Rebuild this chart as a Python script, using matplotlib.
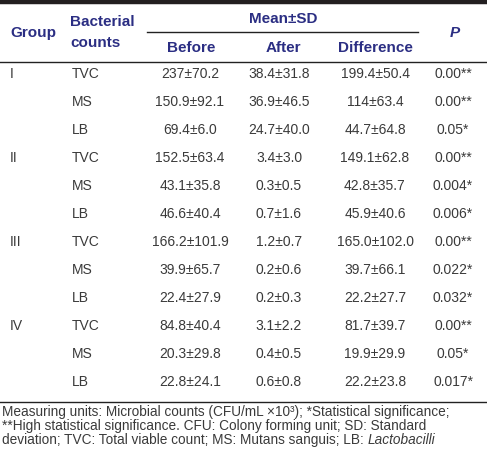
import matplotlib
matplotlib.use("Agg")
import matplotlib.pyplot as plt

plt.rcParams['font.family'] = ['Liberation Sans', 'DejaVu Sans']

groups = ["I", "II", "III", "IV"]
counts = ["TVC", "MS", "LB"]
before = ["237±70.2", "150.9±92.1", "69.4±6.0",
          "152.5±63.4", "43.1±35.8", "46.6±40.4",
          "166.2±101.9", "39.9±65.7", "22.4±27.9",
          "84.8±40.4", "20.3±29.8", "22.8±24.1"]
after = ["38.4±31.8", "36.9±46.5", "24.7±40.0",
         "3.4±3.0", "0.3±0.5", "0.7±1.6",
         "1.2±0.7", "0.2±0.6", "0.2±0.3",
         "3.1±2.2", "0.4±0.5", "0.6±0.8"]
difference = ["199.4±50.4", "114±63.4", "44.7±64.8",
              "149.1±62.8", "42.8±35.7", "45.9±40.6",
              "165.0±102.0", "39.7±66.1", "22.2±27.7",
              "81.7±39.7", "19.9±29.9", "22.2±23.8"]
p_values = ["0.00**", "0.00**", "0.05*",
            "0.00**", "0.004*", "0.006*",
            "0.00**", "0.022*", "0.032*",
            "0.00**", "0.05*", "0.017*"]
footnote = ["Measuring units: Microbial counts (CFU/mL ×10³); *Statistical significance;",
            "**High statistical significance. CFU: Colony forming unit; SD: Standard",
            "deviation; TVC: Total viable count; MS: Mutans sanguis; LB: "]
footnote_italic = "Lactobacilli"

W, H = 487, 449
fig = plt.figure(figsize=(W / 100, H / 100), dpi=100)
ax = fig.add_axes([0, 0, 1, 1])
ax.set_xlim(0, W)
ax.set_ylim(H, 0)
ax.axis('off')

head_col = '#2b2e83'
body_col = '#3a3a3a'
hfs = 11
bfs = 10

# rules
ax.plot([0, W], [1.5, 1.5], color='#231f20', lw=3.2, solid_capstyle='butt')
ax.plot([147, 418], [32, 32], color='#222222', lw=1)
ax.plot([0, W], [62, 62], color='#222222', lw=1)
ax.plot([0, W], [402, 402], color='#222222', lw=1)

# header
hkw = dict(color=head_col, fontsize=hfs, fontweight='bold', va='center')
ax.text(10, 33, "Group", ha='left', **hkw)
ax.text(70, 22, "Bacterial", ha='left', **hkw)
ax.text(70, 43, "counts", ha='left', **hkw)
ax.text(283, 19, "Mean±SD", ha='center', **hkw)
ax.text(191, 48, "Before", ha='center', **hkw)
ax.text(283, 48, "After", ha='center', **hkw)
ax.text(375, 48, "Difference", ha='center', **hkw)
ax.text(455, 33, "P", ha='center', style='italic', **hkw)

# body
bkw = dict(color=body_col, fontsize=bfs, va='center')
y0, dy = 74, 28
for i in range(len(before)):
    y = y0 + i * dy
    if i % len(counts) == 0:
        ax.text(10, y, groups[i // len(counts)], ha='left', **bkw)
    ax.text(72, y, counts[i % len(counts)], ha='left', **bkw)
    ax.text(190, y, before[i], ha='center', **bkw)
    ax.text(279, y, after[i], ha='center', **bkw)
    ax.text(375, y, difference[i], ha='center', **bkw)
    ax.text(453, y, p_values[i], ha='center', **bkw)

# footnote
fkw = dict(color=body_col, fontsize=9.8, va='baseline', ha='left')
last = None
for k, line in enumerate(footnote):
    last = ax.text(2, 416 + k * 14, line, **fkw)
fig.canvas.draw()
bb = last.get_window_extent(fig.canvas.get_renderer())
x_end = ax.transData.inverted().transform((bb.x1, bb.y0))[0]
ax.text(x_end, 416 + 2 * 14, footnote_italic, style='italic', **fkw)

fig.savefig("out.png", dpi=100)
